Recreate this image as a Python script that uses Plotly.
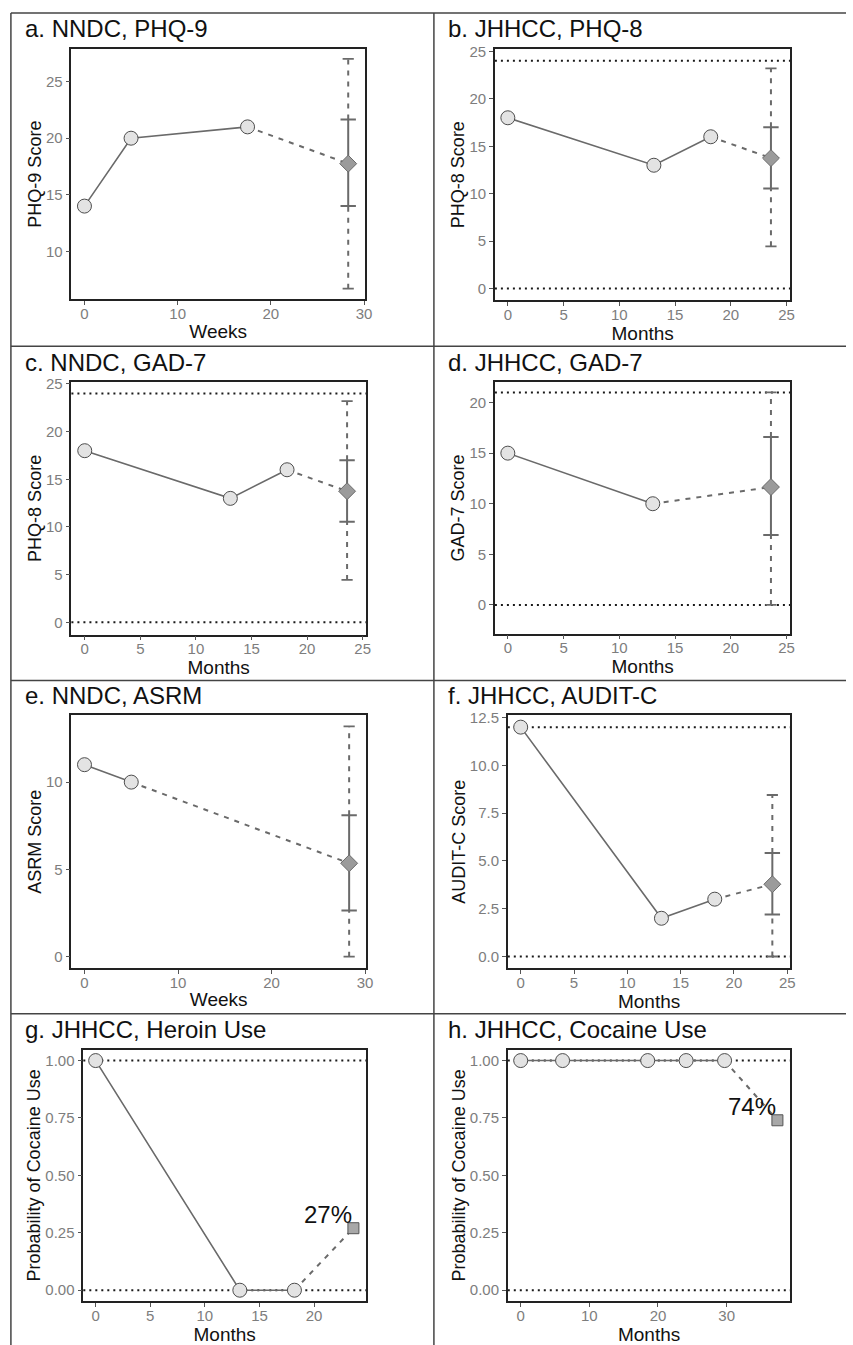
import plotly.graph_objects as go

W, H = 853, 1345

# ---------------- data ----------------
TITLES = ["a. NNDC, PHQ-9", "b. JHHCC, PHQ-8", "c. NNDC, GAD-7", "d. JHHCC, GAD-7",
          "e. NNDC, ASRM", "f. JHHCC, AUDIT-C", "g. JHHCC, Heroin Use", "h. JHHCC, Cocaine Use"]
Y_TITLES = ["PHQ-9 Score", "PHQ-8 Score", "PHQ-8 Score", "GAD-7 Score",
            "ASRM Score", "AUDIT-C Score", "Probability of Cocaine Use", "Probability of Cocaine Use"]
X_TITLES = ["Weeks", "Months", "Months", "Months", "Weeks", "Months", "Months", "Months"]

# observed points
A_X = [0, 5, 17.5];            A_Y = [14, 20, 21]
B_X = [0, 13.1, 18.2];         B_Y = [18, 13, 16]
C_X = [0, 13.1, 18.2];         C_Y = [18, 13, 16]
D_X = [0, 13];                 D_Y = [15, 10]
E_X = [0, 5];                  E_Y = [11, 10]
F_X = [0, 13.2, 18.2];         F_Y = [12, 2, 3]
G_X = [0, 13.2, 18.2];         G_Y = [1, 0, 0]
H_X = [0, 6.1, 18.5, 24.1, 29.7]; H_Y = [1, 1, 1, 1, 1]

# predictions: x, y, inner interval (lo, hi), outer interval (lo, hi)
A_PRED = [28.3, 17.75]; A_INNER = [14.0, 21.65]; A_OUTER = [6.7, 27.0]
B_PRED = [23.6, 13.75]; B_INNER = [10.55, 17.0]; B_OUTER = [4.45, 23.2]
C_PRED = [23.6, 13.75]; C_INNER = [10.55, 17.0]; C_OUTER = [4.45, 23.2]
D_PRED = [23.6, 11.65]; D_INNER = [6.9, 16.6];   D_OUTER = [0.0, 21.0]
E_PRED = [28.3, 5.35];  E_INNER = [2.65, 8.1];   E_OUTER = [0.0, 13.2]
F_PRED = [23.6, 3.78];  F_INNER = [2.2, 5.42];   F_OUTER = [0.0, 8.45]
G_PRED = [23.6, 0.27];  G_LABEL = "27%"
H_PRED = [37.4, 0.74];  H_LABEL = "74%"

# reference (scale min / max) lines
A_REF = []; B_REF = [0, 24]; C_REF = [0, 24]; D_REF = [0, 21]
E_REF = []; F_REF = [0, 12]; G_REF = [0, 1]; H_REF = [0, 1]

# axis ticks
A_XT = [0, 10, 20, 30]; A_YT = [10, 15, 20, 25]
B_XT = [0, 5, 10, 15, 20, 25]; B_YT = [0, 5, 10, 15, 20, 25]
C_XT = [0, 5, 10, 15, 20, 25]; C_YT = [0, 5, 10, 15, 20, 25]
D_XT = [0, 5, 10, 15, 20, 25]; D_YT = [0, 5, 10, 15, 20]
E_XT = [0, 10, 20, 30]; E_YT = [0, 5, 10]
F_XT = [0, 5, 10, 15, 20, 25]; F_YT = [0, 2.5, 5, 7.5, 10, 12.5]
G_XT = [0, 5, 10, 15, 20]; G_YT = [0, 0.25, 0.5, 0.75, 1.0]
H_XT = [0, 10, 20, 30]; H_YT = [0, 0.25, 0.5, 0.75, 1.0]

# ---------------- layout geometry (pixels) ----------------
# (left, right, top, bottom) of each plotting panel
BOXES = [(72, 368, 42, 294), (499, 797, 42, 295),
         (72, 369, 377, 631), (499, 797, 377, 630),
         (72, 369, 712, 966), (512, 797, 712, 966),
         (84, 369, 1048, 1301), (512, 797, 1048, 1301)]
XRANGES = [[-1.4, 30.1], [-1.16, 25.35], [-1.2, 25.3], [-1.16, 25.35],
           [-1.4, 30.1], [-1.21, 25.3], [-1.13, 24.75], [-1.88, 39.3]]
YRANGES = [[5.75, 27.9], [-1.25, 25.27], [-1.3, 25.2], [-2.85, 22.03],
           [-0.65, 13.83], [-0.6, 12.62], [-0.048, 1.048], [-0.048, 1.048]]
YFMT = ["", "", "", "", "", ".1f", ".2f", ".2f"]
TITLE_POS = [(23, 22), (450, 22), (23, 357), (450, 357),
             (23, 692), (450, 692), (23, 1028), (450, 1028)]

OBS = [(A_X, A_Y), (B_X, B_Y), (C_X, C_Y), (D_X, D_Y),
       (E_X, E_Y), (F_X, F_Y), (G_X, G_Y), (H_X, H_Y)]
PREDS = [A_PRED, B_PRED, C_PRED, D_PRED, E_PRED, F_PRED, G_PRED, H_PRED]
INNERS = [A_INNER, B_INNER, C_INNER, D_INNER, E_INNER, F_INNER, None, None]
OUTERS = [A_OUTER, B_OUTER, C_OUTER, D_OUTER, E_OUTER, F_OUTER, None, None]
LABELS = [None, None, None, None, None, None, G_LABEL, H_LABEL]
REFS = [A_REF, B_REF, C_REF, D_REF, E_REF, F_REF, G_REF, H_REF]
XTICKS = [A_XT, B_XT, C_XT, D_XT, E_XT, F_XT, G_XT, H_XT]
YTICKS = [A_YT, B_YT, C_YT, D_YT, E_YT, F_YT, G_YT, H_YT]

FONT = "Liberation Sans, Arial, sans-serif"
LINE_C = "#6a6a6a"
DASH = "5px,6px"

fig = go.Figure()
layout = {}
shapes = []
annotations = []


def px(x):
    return x / W


def py(y):
    return 1 - y / H


for i in range(8):
    n = "" if i == 0 else str(i + 1)
    xa, ya = "x" + n, "y" + n
    l, r, t, b = BOXES[i]
    ox, oy = OBS[i]
    pxv, pyv = PREDS[i]

    # reference lines
    for ref in REFS[i]:
        shapes.append(dict(type="line", xref=xa + " domain", yref=ya, x0=0, x1=1, y0=ref, y1=ref,
                           line=dict(color="#1a1a1a", width=2, dash="2px,4px"), layer="below"))

    # dashed connection to prediction
    fig.add_trace(go.Scatter(x=[ox[-1], pxv], y=[oy[-1], pyv], mode="lines", xaxis=xa, yaxis=ya,
                             line=dict(color=LINE_C, width=2, dash=DASH), showlegend=False,
                             hoverinfo="skip"))
    # solid observed line
    fig.add_trace(go.Scatter(x=ox, y=oy, mode="lines", xaxis=xa, yaxis=ya,
                             line=dict(color=LINE_C, width=1.6), showlegend=False, hoverinfo="skip"))

    if OUTERS[i] is not None:
        ilo, ihi = INNERS[i]
        olo, ohi = OUTERS[i]
        # outer (dashed) interval
        fig.add_trace(go.Scatter(x=[pxv, pxv, None, pxv, pxv], y=[olo, ilo, None, ihi, ohi],
                                 mode="lines", xaxis=xa, yaxis=ya,
                                 line=dict(color=LINE_C, width=2, dash=DASH),
                                 showlegend=False, hoverinfo="skip"))
        fig.add_trace(go.Scatter(x=[pxv, pxv], y=[olo, ohi], mode="markers", xaxis=xa, yaxis=ya,
                                 marker=dict(symbol="line-ew", size=8,
                                             line=dict(color=LINE_C, width=1.8)),
                                 showlegend=False, hoverinfo="skip"))
        # inner (solid) interval
        fig.add_trace(go.Scatter(x=[pxv, pxv], y=[ilo, ihi], mode="lines+markers", xaxis=xa, yaxis=ya,
                                 line=dict(color=LINE_C, width=2),
                                 marker=dict(symbol="line-ew", size=11,
                                             line=dict(color=LINE_C, width=2)),
                                 showlegend=False, hoverinfo="skip"))

    # observed markers
    fig.add_trace(go.Scatter(x=ox, y=oy, mode="markers", xaxis=xa, yaxis=ya,
                             marker=dict(symbol="circle", size=14, color="#e3e3e3",
                                         line=dict(color="#4d4d4d", width=1)),
                             showlegend=False))
    # prediction marker
    if LABELS[i] is None:
        fig.add_trace(go.Scatter(x=[pxv], y=[pyv], mode="markers", xaxis=xa, yaxis=ya,
                                 marker=dict(symbol="diamond", size=13, color="#9b9b9b",
                                             line=dict(color="#6b6b6b", width=1)),
                                 showlegend=False))
    else:
        fig.add_trace(go.Scatter(x=[pxv], y=[pyv], mode="markers", xaxis=xa, yaxis=ya,
                                 marker=dict(symbol="square", size=11, color="#a8a8a8",
                                             line=dict(color="#555555", width=1)),
                                 showlegend=False))
        annotations.append(dict(x=pxv, y=pyv, xref=xa, yref=ya, text=LABELS[i], showarrow=False,
                                xanchor="right", yanchor="bottom", xshift=1, yshift=-2,
                                font=dict(family=FONT, size=24, color="#111111")))

    axis_common = dict(showgrid=False, zeroline=False, showline=True, mirror=True,
                       linecolor="#222222", linewidth=1.5, ticks="outside", ticklen=4,
                       tickwidth=1, tickcolor="#555555",
                       tickfont=dict(family=FONT, size=15, color="#7d7d7d"))
    layout["xaxis" + n] = dict(axis_common, domain=[px(l), px(r)], range=XRANGES[i],
                               anchor=ya, tickvals=XTICKS[i], ticklabelstandoff=-4,
                               title=dict(text=X_TITLES[i], standoff=3,
                                          font=dict(family=FONT, size=19, color="#111111")))
    layout["yaxis" + n] = dict(axis_common, domain=[py(b), py(t)], range=YRANGES[i],
                               anchor=xa, tickvals=YTICKS[i], tickformat=YFMT[i],
                               title=dict(text=Y_TITLES[i], standoff=0,
                                          font=dict(family=FONT, size=18, color="#111111")))

    tx, ty = TITLE_POS[i]
    annotations.append(dict(x=px(tx), y=py(ty), xref="paper", yref="paper", text=TITLES[i],
                            showarrow=False, xanchor="left", yanchor="middle",
                            font=dict(family=FONT, size=24, color="#111111")))

# cell borders
BORDER_C = "#444444"
for yy in [6, 341, 677, 1012]:
    shapes.append(dict(type="line", xref="paper", yref="paper", x0=px(11), x1=1.0,
                       y0=py(yy), y1=py(yy), line=dict(color=BORDER_C, width=1.5)))
for xx in [11, 437.5]:
    shapes.append(dict(type="line", xref="paper", yref="paper", x0=px(xx), x1=px(xx),
                       y0=py(6), y1=0, line=dict(color=BORDER_C, width=1.5)))

fig.update_layout(**layout)
fig.update_layout(width=W, height=H, margin=dict(l=0, r=0, t=0, b=0),
                  paper_bgcolor="white", plot_bgcolor="white", shapes=shapes,
                  annotations=annotations, showlegend=False,
                  font=dict(family=FONT))
fig.write_html("out.html", config={"displayModeBar": False},
               post_script="document.body.style.margin='0';document.body.style.overflow='hidden';")
